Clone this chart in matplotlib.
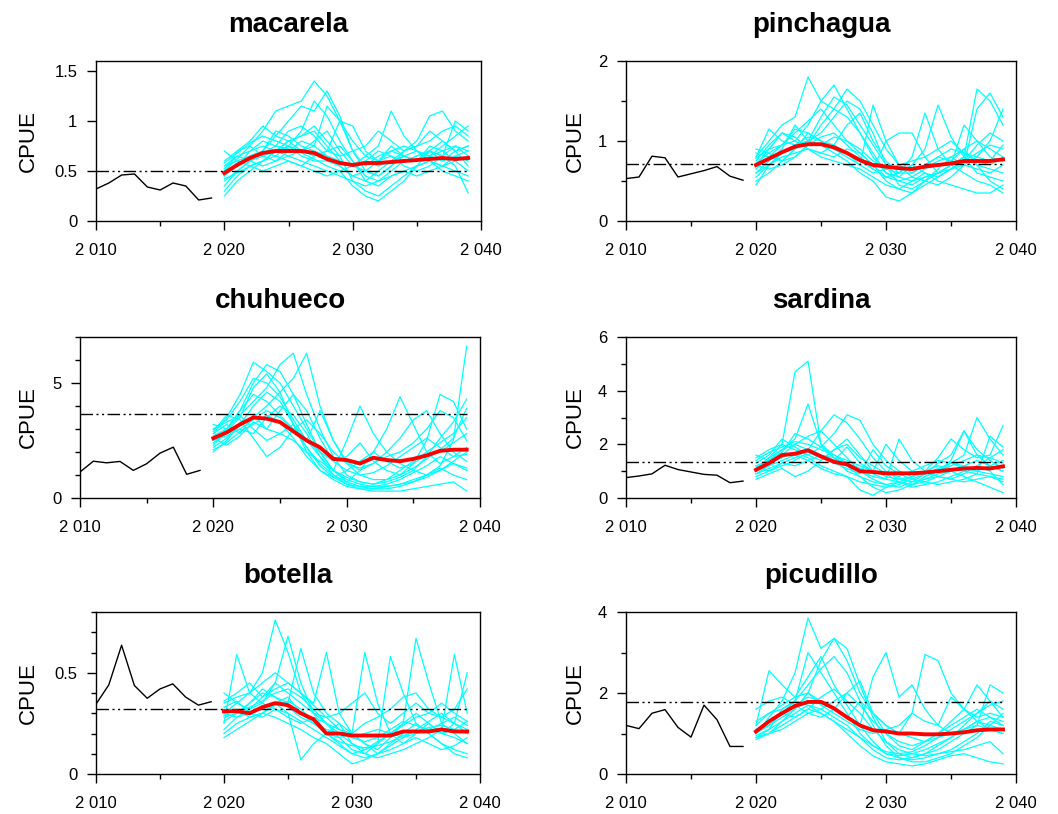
import matplotlib
matplotlib.use("Agg")
import matplotlib.pyplot as plt
from matplotlib.ticker import FuncFormatter, MultipleLocator, FixedLocator
from matplotlib.transforms import blended_transform_factory

plt.rcParams["font.family"] = "Liberation Sans"

years_hist = list(range(2010, 2020))
years_proj = list(range(2020, 2040))

species = ["macarela", "pinchagua", "chuhueco", "sardina", "botella", "picudillo"]

# observed CPUE 2010-2019
hist = {
    "macarela":  [0.32, 0.38, 0.46, 0.47, 0.34, 0.31, 0.38, 0.35, 0.21, 0.23],
    "pinchagua": [0.53, 0.55, 0.81, 0.79, 0.55, 0.59, 0.63, 0.68, 0.56, 0.51],
    "chuhueco":  [1.13, 1.60, 1.53, 1.59, 1.20, 1.49, 1.95, 2.21, 1.03, 1.20],
    "sardina":   [0.76, 0.82, 0.90, 1.22, 1.06, 0.97, 0.88, 0.85, 0.57, 0.63],
    "botella":   [0.345, 0.44, 0.636, 0.437, 0.374, 0.42, 0.445, 0.38, 0.34, 0.357],
    "picudillo": [1.20, 1.12, 1.50, 1.59, 1.15, 0.91, 1.70, 1.34, 0.68, 0.68],
}

# reference level (dash-dot line)
ref = {"macarela": 0.50, "pinchagua": 0.71, "chuhueco": 3.67,
       "sardina": 1.35, "botella": 0.319, "picudillo": 1.77}

# median of projections 2020-2039
median = {
    "macarela":  [0.48, 0.56, 0.63, 0.68, 0.70, 0.70, 0.70, 0.68, 0.62, 0.58,
                  0.56, 0.58, 0.58, 0.59, 0.60, 0.61, 0.62, 0.63, 0.62, 0.63],
    "pinchagua": [0.70, 0.78, 0.86, 0.93, 0.96, 0.96, 0.92, 0.85, 0.76, 0.70,
                  0.68, 0.66, 0.65, 0.68, 0.70, 0.72, 0.75, 0.75, 0.75, 0.77],
    "chuhueco":  [2.60, 2.85, 3.20, 3.50, 3.45, 3.30, 2.90, 2.50, 2.20, 1.70,
                  1.65, 1.50, 1.75, 1.65, 1.60, 1.70, 1.85, 2.05, 2.10, 2.10],
    "sardina":   [1.05, 1.30, 1.60, 1.65, 1.78, 1.55, 1.35, 1.25, 1.00, 0.97,
                  0.92, 0.92, 0.92, 0.95, 1.00, 1.05, 1.10, 1.12, 1.10, 1.18],
    "botella":   [0.31, 0.31, 0.30, 0.33, 0.35, 0.34, 0.30, 0.27, 0.20, 0.20,
                  0.19, 0.19, 0.19, 0.19, 0.21, 0.21, 0.21, 0.22, 0.21, 0.21],
    "picudillo": [1.05, 1.30, 1.50, 1.68, 1.78, 1.78, 1.62, 1.40, 1.20, 1.08,
                  1.05, 1.00, 1.00, 0.98, 0.98, 1.00, 1.03, 1.08, 1.10, 1.10],
}

# individual projection runs 2020-2039
runs_macarela = [
    [0.50, 0.62, 0.75, 0.90, 1.10, 1.15, 1.20, 1.40, 1.25, 1.00, 0.80, 0.65, 0.60, 0.70, 0.75, 0.70, 0.65, 0.60, 0.70, 0.75],
    [0.45, 0.55, 0.65, 0.70, 0.85, 1.00, 1.15, 1.10, 1.30, 1.05, 0.70, 0.50, 0.45, 0.55, 0.65, 0.60, 0.75, 0.70, 0.60, 0.65],
    [0.30, 0.45, 0.55, 0.60, 0.65, 0.75, 0.90, 1.20, 1.05, 0.80, 0.60, 0.40, 0.35, 0.45, 0.50, 0.55, 0.60, 0.55, 0.50, 0.45],
    [0.55, 0.65, 0.70, 0.75, 0.70, 0.65, 0.60, 0.55, 0.50, 0.45, 0.40, 0.30, 0.25, 0.35, 0.45, 0.55, 0.70, 0.65, 0.55, 0.28],
    [0.60, 0.70, 0.80, 0.95, 0.85, 0.80, 0.85, 0.90, 0.75, 0.60, 0.55, 0.65, 0.75, 1.10, 0.85, 0.70, 0.65, 0.75, 0.85, 0.95],
    [0.40, 0.50, 0.60, 0.65, 0.60, 0.70, 0.80, 0.75, 0.65, 0.55, 0.45, 0.40, 0.50, 0.60, 0.70, 0.80, 1.05, 1.10, 0.90, 0.80],
    [0.70, 0.60, 0.55, 0.60, 0.70, 0.80, 0.70, 0.65, 0.70, 1.00, 0.95, 0.70, 0.60, 0.65, 0.55, 0.50, 0.55, 0.65, 0.75, 0.70],
    [0.48, 0.58, 0.62, 0.68, 0.75, 0.72, 0.68, 0.62, 0.55, 0.50, 0.35, 0.25, 0.20, 0.30, 0.40, 0.55, 0.60, 0.50, 0.45, 0.40],
    [0.35, 0.50, 0.60, 0.55, 0.60, 0.65, 0.70, 0.80, 0.90, 0.70, 0.55, 0.60, 0.70, 0.65, 0.60, 0.65, 0.70, 0.60, 0.65, 0.70],
    [0.50, 0.55, 0.70, 0.80, 0.75, 0.90, 0.95, 0.85, 0.70, 0.65, 0.70, 0.75, 0.90, 0.80, 0.70, 0.75, 0.80, 0.90, 0.95, 0.85],
    [0.55, 0.60, 0.65, 0.70, 0.65, 0.60, 0.55, 0.50, 0.45, 0.50, 0.55, 0.60, 0.55, 0.60, 0.65, 0.60, 0.65, 0.70, 0.75, 0.65],
    [0.45, 0.70, 0.75, 0.65, 0.70, 0.75, 0.65, 0.60, 0.60, 0.55, 0.45, 0.50, 0.60, 0.75, 0.65, 0.70, 0.60, 0.55, 0.65, 0.60],
    [0.25, 0.40, 0.50, 0.60, 0.70, 0.80, 0.85, 0.95, 0.80, 0.65, 0.40, 0.35, 0.40, 0.50, 0.60, 0.65, 0.70, 0.65, 1.00, 0.90],
    [0.52, 0.65, 0.60, 0.70, 0.90, 0.85, 0.75, 0.70, 0.65, 0.60, 0.55, 0.50, 0.45, 0.55, 0.70, 0.75, 0.90, 0.80, 0.70, 0.55],
    [0.42, 0.48, 0.55, 0.50, 0.55, 0.60, 0.55, 0.65, 0.70, 0.75, 0.60, 0.45, 0.40, 0.45, 0.50, 0.45, 0.50, 0.55, 0.60, 0.50],
    [0.58, 0.68, 0.78, 0.85, 0.80, 0.75, 0.70, 0.75, 1.15, 1.00, 0.70, 0.55, 0.65, 0.70, 0.65, 0.60, 0.70, 0.80, 0.70, 0.75],
]
runs_pinchagua = [
    [0.80, 1.00, 1.20, 1.30, 1.80, 1.50, 1.40, 1.65, 1.50, 1.20, 0.90, 0.70, 0.60, 0.70, 0.80, 0.75, 0.90, 1.00, 0.90, 0.80],
    [0.70, 0.90, 1.10, 1.00, 1.20, 1.50, 1.70, 1.40, 1.10, 0.80, 0.60, 0.50, 0.55, 0.65, 0.75, 0.80, 0.70, 0.65, 0.60, 0.70],
    [0.45, 0.70, 0.85, 0.95, 1.00, 1.10, 1.30, 1.50, 1.40, 1.10, 0.70, 0.45, 0.40, 0.50, 0.60, 0.70, 0.80, 1.65, 1.50, 1.20],
    [0.85, 0.80, 0.75, 0.90, 1.10, 1.00, 0.90, 0.80, 0.70, 1.45, 1.00, 0.70, 0.55, 0.50, 0.45, 0.55, 0.70, 0.80, 1.00, 1.40],
    [0.60, 0.75, 0.90, 1.20, 1.00, 0.95, 0.85, 0.75, 0.60, 0.50, 0.30, 0.25, 0.35, 0.50, 0.65, 0.80, 0.90, 0.70, 0.50, 0.40],
    [0.75, 0.95, 1.10, 1.05, 0.90, 0.85, 0.95, 1.20, 1.35, 1.00, 0.75, 0.60, 0.80, 1.35, 0.90, 0.70, 0.60, 0.50, 0.45, 0.35],
    [0.70, 0.65, 0.70, 0.80, 0.95, 1.20, 1.40, 1.30, 1.10, 0.85, 0.60, 0.55, 0.70, 0.90, 1.45, 1.05, 0.80, 0.60, 0.55, 0.50],
    [0.55, 0.70, 0.80, 0.85, 0.90, 0.85, 0.80, 0.90, 0.85, 0.70, 0.50, 0.40, 0.35, 0.45, 0.55, 0.65, 0.75, 0.85, 0.95, 0.90],
    [0.80, 1.15, 1.00, 0.95, 1.05, 1.00, 0.90, 0.85, 0.75, 0.65, 1.00, 1.10, 1.10, 0.80, 0.60, 0.70, 1.20, 1.00, 0.80, 0.75],
    [0.65, 0.80, 0.95, 1.10, 1.25, 1.40, 1.20, 1.00, 0.85, 0.70, 0.55, 0.50, 0.45, 0.55, 0.60, 0.65, 0.70, 1.40, 1.60, 1.30],
    [0.72, 0.85, 0.75, 0.90, 1.00, 0.95, 1.05, 1.00, 0.90, 0.75, 0.65, 0.60, 0.60, 0.70, 0.80, 0.90, 0.85, 0.75, 0.70, 0.80],
    [0.90, 0.85, 0.95, 1.00, 0.90, 0.80, 0.75, 0.70, 0.65, 0.55, 0.45, 0.40, 0.50, 0.60, 0.55, 0.65, 0.75, 0.95, 1.10, 1.00],
    [0.50, 0.60, 0.75, 0.80, 0.95, 1.05, 1.10, 0.95, 0.80, 0.65, 0.55, 0.60, 0.70, 0.60, 0.50, 0.45, 0.40, 0.35, 0.35, 0.45],
    [0.78, 0.90, 0.95, 1.15, 1.10, 1.00, 0.95, 0.85, 0.70, 0.60, 0.65, 0.70, 0.75, 0.80, 0.90, 1.00, 0.85, 0.80, 0.75, 0.95],
    [0.60, 0.70, 0.85, 0.90, 1.00, 1.30, 1.55, 1.45, 1.20, 0.95, 0.70, 0.55, 0.50, 0.55, 0.60, 0.70, 0.80, 0.70, 0.65, 0.60],
]
runs_chuhueco = [
    [2.8, 3.5, 4.5, 5.9, 5.5, 5.0, 4.0, 3.0, 2.0, 1.2, 0.8, 0.6, 0.5, 0.5, 0.6, 0.7, 0.9, 1.2, 1.6, 2.0],
    [2.5, 3.0, 3.8, 5.0, 5.8, 5.5, 4.5, 3.2, 2.0, 1.2, 0.7, 0.5, 0.4, 0.4, 0.5, 0.7, 1.0, 1.4, 2.5, 6.6],
    [3.0, 3.3, 3.6, 4.2, 4.8, 5.8, 6.3, 4.5, 3.0, 1.8, 1.0, 0.7, 0.6, 0.7, 0.9, 1.2, 1.8, 2.6, 3.3, 4.3],
    [2.0, 2.5, 3.2, 3.5, 4.0, 4.6, 5.2, 6.3, 4.0, 2.5, 1.5, 1.0, 0.8, 0.8, 1.0, 1.5, 2.5, 4.5, 4.2, 3.0],
    [2.7, 3.0, 3.6, 3.0, 2.5, 2.8, 3.2, 2.5, 1.8, 1.2, 2.5, 4.0, 2.8, 2.0, 1.5, 1.2, 1.0, 1.2, 1.5, 1.3],
    [2.4, 2.8, 3.0, 2.8, 3.5, 4.0, 3.6, 2.8, 1.8, 1.0, 0.6, 0.4, 0.3, 0.3, 0.3, 0.4, 0.5, 0.6, 0.7, 0.3],
    [3.2, 3.0, 3.8, 4.5, 4.2, 3.6, 3.0, 2.2, 1.5, 1.0, 0.7, 1.2, 2.0, 3.0, 4.4, 3.2, 2.0, 1.5, 1.8, 2.2],
    [2.6, 2.3, 2.7, 3.3, 3.0, 2.8, 2.5, 2.0, 1.6, 1.2, 0.9, 0.7, 0.6, 0.8, 1.2, 1.6, 2.0, 2.4, 2.8, 3.5],
    [2.9, 3.6, 3.4, 2.6, 1.8, 2.2, 3.0, 3.4, 2.8, 2.0, 1.5, 1.3, 1.5, 1.8, 2.0, 2.4, 3.0, 3.8, 3.5, 2.5],
    [2.2, 2.6, 3.2, 4.0, 4.6, 4.2, 3.2, 2.2, 1.4, 0.9, 0.6, 0.5, 0.5, 0.6, 0.8, 1.1, 1.4, 1.8, 1.5, 1.2],
    [3.0, 3.4, 4.2, 5.2, 5.0, 4.4, 3.4, 2.5, 3.8, 2.5, 1.6, 1.2, 1.5, 2.0, 2.6, 3.4, 3.8, 2.8, 2.0, 1.6],
    [2.5, 2.7, 3.0, 3.4, 3.8, 3.5, 3.0, 2.5, 2.0, 1.6, 1.8, 2.4, 1.6, 1.2, 1.0, 1.3, 1.7, 2.1, 2.6, 3.9],
    [2.3, 2.9, 3.5, 4.8, 5.4, 4.6, 3.2, 2.0, 1.2, 0.8, 0.5, 0.4, 0.4, 0.5, 0.6, 0.8, 1.0, 1.3, 1.0, 0.8],
    [2.8, 3.2, 2.8, 3.6, 3.0, 3.8, 4.5, 3.8, 2.6, 1.6, 1.2, 1.0, 1.1, 1.4, 1.8, 2.2, 2.6, 2.2, 1.8, 1.9],
    [2.1, 2.4, 2.9, 3.2, 3.6, 3.3, 2.6, 1.8, 1.2, 0.9, 1.2, 1.6, 2.0, 1.6, 1.3, 1.5, 1.9, 2.0, 2.4, 2.8],
]
runs_sardina = [
    [1.0, 1.5, 2.0, 4.7, 5.1, 2.0, 1.5, 1.0, 0.8, 0.6, 0.5, 0.6, 0.8, 1.0, 1.2, 1.1, 1.0, 0.9, 0.8, 0.7],
    [1.2, 1.4, 1.8, 2.2, 3.5, 2.0, 1.6, 1.4, 1.2, 1.0, 0.8, 0.7, 0.8, 0.9, 1.0, 1.2, 1.4, 1.6, 1.5, 1.3],
    [0.9, 1.2, 1.6, 2.0, 2.3, 2.5, 3.1, 2.8, 2.2, 1.5, 1.0, 0.7, 0.6, 0.7, 0.8, 1.0, 1.2, 1.4, 1.2, 1.0],
    [1.5, 1.8, 2.0, 1.8, 1.6, 1.9, 2.4, 3.1, 2.9, 2.0, 1.4, 1.0, 0.8, 1.0, 1.5, 2.2, 1.8, 1.5, 1.6, 2.7],
    [1.1, 1.3, 1.5, 1.7, 1.5, 1.2, 1.0, 0.8, 0.3, 0.1, 0.4, 0.6, 0.5, 0.7, 0.9, 1.0, 0.8, 0.6, 0.4, 0.2],
    [0.8, 1.0, 1.3, 1.5, 1.8, 2.5, 2.0, 1.5, 1.0, 0.7, 0.5, 0.4, 0.6, 0.9, 1.3, 1.6, 2.5, 1.8, 1.4, 1.1],
    [1.3, 1.6, 2.2, 1.9, 1.6, 1.4, 1.8, 2.2, 1.6, 1.0, 2.0, 1.4, 1.0, 0.8, 1.0, 1.3, 1.6, 3.0, 2.2, 1.6],
    [1.0, 1.2, 1.4, 1.6, 1.4, 1.1, 0.9, 0.8, 0.6, 0.5, 0.4, 0.5, 0.7, 0.9, 1.1, 1.3, 1.2, 1.0, 0.9, 0.8],
    [1.4, 1.7, 1.9, 2.1, 2.0, 1.8, 1.6, 1.3, 1.0, 0.8, 0.7, 2.2, 1.4, 1.0, 0.8, 0.7, 0.9, 1.2, 1.5, 1.8],
    [0.7, 0.9, 1.1, 0.8, 1.0, 1.4, 1.8, 2.0, 1.5, 1.2, 0.9, 0.6, 0.4, 0.5, 0.6, 0.8, 1.0, 1.2, 1.0, 0.5],
    [1.2, 1.0, 1.2, 1.4, 1.7, 1.5, 1.3, 1.1, 0.9, 1.8, 1.2, 0.9, 0.7, 0.6, 0.5, 0.6, 0.7, 0.9, 2.3, 1.9],
    [1.6, 1.4, 1.7, 2.4, 2.2, 1.9, 1.5, 1.2, 0.8, 0.4, 0.2, 0.3, 0.5, 0.8, 1.0, 1.4, 2.5, 1.6, 1.2, 1.0],
    [0.9, 1.1, 1.3, 1.2, 1.4, 1.6, 1.5, 1.3, 1.1, 0.9, 0.7, 0.6, 0.5, 0.6, 0.8, 0.7, 0.6, 0.7, 0.8, 0.6],
    [1.1, 1.5, 1.8, 2.0, 1.8, 1.6, 1.4, 1.9, 1.3, 1.0, 0.9, 0.8, 1.0, 1.2, 1.4, 1.3, 1.1, 1.0, 1.2, 1.4],
]
runs_botella = [
    [0.30, 0.35, 0.40, 0.50, 0.76, 0.60, 0.40, 0.30, 0.20, 0.15, 0.10, 0.08, 0.10, 0.15, 0.20, 0.25, 0.20, 0.15, 0.12, 0.10],
    [0.25, 0.59, 0.40, 0.35, 0.45, 0.68, 0.45, 0.30, 0.25, 0.20, 0.15, 0.12, 0.15, 0.20, 0.25, 0.30, 0.25, 0.20, 0.18, 0.15],
    [0.32, 0.30, 0.35, 0.40, 0.38, 0.35, 0.62, 0.40, 0.30, 0.25, 0.20, 0.60, 0.35, 0.20, 0.15, 0.20, 0.25, 0.20, 0.25, 0.50],
    [0.20, 0.25, 0.28, 0.30, 0.35, 0.30, 0.07, 0.15, 0.20, 0.25, 0.15, 0.10, 0.15, 0.58, 0.40, 0.25, 0.20, 0.15, 0.10, 0.08],
    [0.35, 0.38, 0.40, 0.45, 0.50, 0.45, 0.40, 0.35, 0.60, 0.30, 0.20, 0.15, 0.12, 0.18, 0.25, 0.67, 0.45, 0.25, 0.20, 0.15],
    [0.28, 0.30, 0.33, 0.36, 0.40, 0.42, 0.38, 0.32, 0.25, 0.18, 0.12, 0.10, 0.08, 0.10, 0.12, 0.15, 0.18, 0.22, 0.59, 0.30],
    [0.18, 0.22, 0.26, 0.30, 0.28, 0.25, 0.22, 0.18, 0.15, 0.10, 0.05, 0.07, 0.10, 0.14, 0.18, 0.22, 0.26, 0.30, 0.25, 0.20],
    [0.40, 0.35, 0.32, 0.38, 0.45, 0.40, 0.35, 0.30, 0.28, 0.30, 0.35, 0.40, 0.30, 0.25, 0.30, 0.35, 0.30, 0.28, 0.32, 0.42],
    [0.30, 0.28, 0.30, 0.32, 0.35, 0.38, 0.30, 0.25, 0.20, 0.18, 0.20, 0.25, 0.28, 0.32, 0.38, 0.40, 0.32, 0.28, 0.25, 0.22],
    [0.26, 0.30, 0.35, 0.42, 0.38, 0.33, 0.28, 0.25, 0.22, 0.20, 0.18, 0.20, 0.22, 0.20, 0.18, 0.20, 0.22, 0.25, 0.28, 0.24],
    [0.33, 0.36, 0.30, 0.28, 0.32, 0.30, 0.26, 0.22, 0.18, 0.14, 0.10, 0.12, 0.16, 0.20, 0.24, 0.28, 0.30, 0.35, 0.30, 0.26],
    [0.22, 0.28, 0.32, 0.35, 0.32, 0.28, 0.25, 0.28, 0.25, 0.22, 0.20, 0.15, 0.10, 0.12, 0.15, 0.18, 0.15, 0.12, 0.14, 0.18],
    [0.36, 0.40, 0.45, 0.38, 0.42, 0.45, 0.40, 0.34, 0.28, 0.22, 0.18, 0.16, 0.18, 0.22, 0.26, 0.24, 0.22, 0.20, 0.22, 0.26],
    [0.29, 0.32, 0.28, 0.30, 0.34, 0.36, 0.32, 0.26, 0.20, 0.16, 0.14, 0.13, 0.14, 0.16, 0.19, 0.21, 0.23, 0.24, 0.22, 0.20],
]
runs_picudillo = [
    [1.00, 1.40, 1.80, 2.50, 3.85, 3.10, 3.35, 2.80, 2.00, 1.50, 1.20, 1.00, 0.90, 0.80, 0.90, 1.00, 1.10, 1.20, 1.10, 1.00],
    [1.20, 2.55, 2.20, 1.90, 2.00, 1.80, 1.60, 1.40, 1.20, 2.40, 3.00, 1.90, 2.20, 1.60, 1.20, 1.00, 1.10, 1.30, 1.40, 1.30],
    [0.90, 1.00, 1.30, 1.60, 2.00, 2.80, 3.35, 3.10, 2.20, 1.40, 0.80, 0.50, 0.40, 0.50, 0.70, 0.90, 1.20, 1.50, 1.80, 1.60],
    [1.10, 1.30, 1.50, 1.80, 2.20, 2.60, 2.90, 2.50, 1.80, 1.20, 0.70, 0.40, 0.30, 0.30, 0.40, 0.50, 0.70, 0.90, 1.20, 1.50],
    [1.05, 1.20, 1.50, 1.70, 1.90, 1.80, 1.60, 1.40, 1.80, 1.50, 1.20, 1.00, 1.50, 2.95, 2.80, 2.00, 1.60, 1.30, 1.10, 1.00],
    [0.85, 1.00, 1.20, 1.40, 1.60, 1.50, 1.30, 1.00, 0.70, 0.45, 0.30, 0.25, 0.20, 0.25, 0.35, 0.45, 0.50, 0.40, 0.30, 0.25],
    [1.60, 1.80, 1.90, 1.70, 1.50, 1.60, 1.80, 2.00, 1.70, 1.30, 1.00, 0.80, 0.70, 0.80, 1.00, 1.30, 1.60, 2.20, 1.80, 1.40],
    [0.90, 1.10, 1.30, 1.50, 1.70, 1.60, 1.40, 1.20, 0.90, 0.60, 0.40, 0.35, 0.40, 0.50, 0.60, 0.80, 1.00, 1.20, 2.20, 2.00],
    [1.20, 1.50, 1.70, 1.90, 2.40, 2.90, 2.20, 1.70, 1.20, 0.80, 0.50, 0.40, 0.35, 0.40, 0.50, 0.55, 0.60, 0.70, 0.80, 0.50],
    [1.00, 1.20, 1.40, 1.60, 2.00, 1.70, 1.50, 1.30, 1.10, 1.00, 1.10, 1.20, 1.50, 1.30, 1.20, 1.90, 1.60, 1.40, 1.50, 1.40],
    [0.95, 1.10, 1.60, 1.80, 3.00, 2.50, 2.00, 1.50, 1.00, 0.70, 0.50, 0.45, 0.50, 0.60, 0.75, 0.90, 1.10, 1.30, 1.20, 1.10],
    [1.10, 1.30, 1.50, 1.40, 1.60, 1.90, 2.10, 1.80, 1.50, 1.10, 0.80, 0.60, 0.50, 0.45, 0.50, 0.60, 0.80, 1.00, 1.30, 1.20],
    [1.30, 1.50, 1.60, 1.80, 1.70, 1.50, 1.30, 1.10, 0.90, 0.70, 0.55, 0.50, 0.55, 0.70, 0.90, 1.10, 1.30, 1.50, 1.70, 1.80],
    [0.90, 1.00, 1.10, 1.30, 1.50, 1.40, 1.60, 2.00, 2.30, 1.50, 1.00, 0.70, 0.60, 0.80, 1.00, 1.20, 1.40, 1.60, 1.40, 1.20],
]
runs = {"macarela": runs_macarela, "pinchagua": runs_pinchagua, "chuhueco": runs_chuhueco,
        "sardina": runs_sardina, "botella": runs_botella, "picudillo": runs_picudillo}

# y axis: limit, major ticks, minor step
ylims = {"macarela": 1.6, "pinchagua": 2, "chuhueco": 7, "sardina": 6, "botella": 0.8, "picudillo": 4}
ymajor = {"macarela": [0, 0.5, 1, 1.5], "pinchagua": [0, 1, 2], "chuhueco": [0, 5],
          "sardina": [0, 2, 4, 6], "botella": [0, 0.5], "picudillo": [0, 2, 4]}
yminor = {"macarela": None, "pinchagua": 0.5, "chuhueco": 1, "sardina": 1, "botella": 0.1, "picudillo": 1}

# axes boxes in pixels: left, right, top, bottom
W, H = 1058, 814
boxes = {
    "macarela":  (96, 481, 61, 221),
    "pinchagua": (626, 1016, 61, 221),
    "chuhueco":  (80, 480, 337, 498),
    "sardina":   (626, 1016, 337, 498),
    "botella":   (96, 480, 612, 774),
    "picudillo": (626, 1016, 612, 774),
}
label_x = {"macarela": 39, "chuhueco": 39, "botella": 39,
           "pinchagua": 586, "sardina": 586, "picudillo": 586}

fig = plt.figure(figsize=(W / 100, H / 100), dpi=100)
yr_fmt = FuncFormatter(lambda x, _: f"{int(round(x)):,}".replace(",", " "))

for sp in species:
    l, r, t, b = boxes[sp]
    ax = fig.add_axes([l / W, 1 - b / H, (r - l) / W, (b - t) / H])

    ax.plot(years_hist, hist[sp], color="black", lw=1.0)
    for run in runs[sp]:
        ax.plot(years_proj, run, color="cyan", lw=0.9)
    ax.plot([2010, 2039], [ref[sp], ref[sp]], color="black", lw=1.0,
            dashes=(9, 2.5, 1.5, 2.5, 1.5, 2.5))
    ax.plot(years_proj, median[sp], color="red", lw=2.8)

    ax.set_xlim(2010, 2040)
    ax.set_ylim(0, ylims[sp])
    ax.xaxis.set_major_locator(FixedLocator([2010, 2020, 2030, 2040]))
    ax.xaxis.set_minor_locator(FixedLocator([2015, 2025, 2035]))
    ax.xaxis.set_major_formatter(yr_fmt)
    ax.yaxis.set_major_locator(FixedLocator(ymajor[sp]))
    if yminor[sp]:
        ax.yaxis.set_minor_locator(MultipleLocator(yminor[sp]))
    ax.yaxis.set_major_formatter(FuncFormatter(lambda v, _: f"{v:g}"))
    ax.tick_params(which="major", direction="out", length=6.5, width=1, labelsize=12)
    ax.tick_params(axis="x", which="major", pad=9)
    ax.tick_params(axis="y", which="major", pad=7)
    ax.tick_params(which="minor", direction="out", length=3.5, width=1)
    ax.tick_params(top=False, right=False)
    for s in ax.spines.values():
        s.set_linewidth(1.0)

    ax.set_title(sp, fontsize=20, fontweight="bold", pad=21)
    ax.set_ylabel("CPUE", fontsize=16)
    ax.yaxis.set_label_coords(label_x[sp] / W, 0.5,
                              transform=blended_transform_factory(fig.transFigure, ax.transAxes))

fig.savefig("out.png", dpi=100)
